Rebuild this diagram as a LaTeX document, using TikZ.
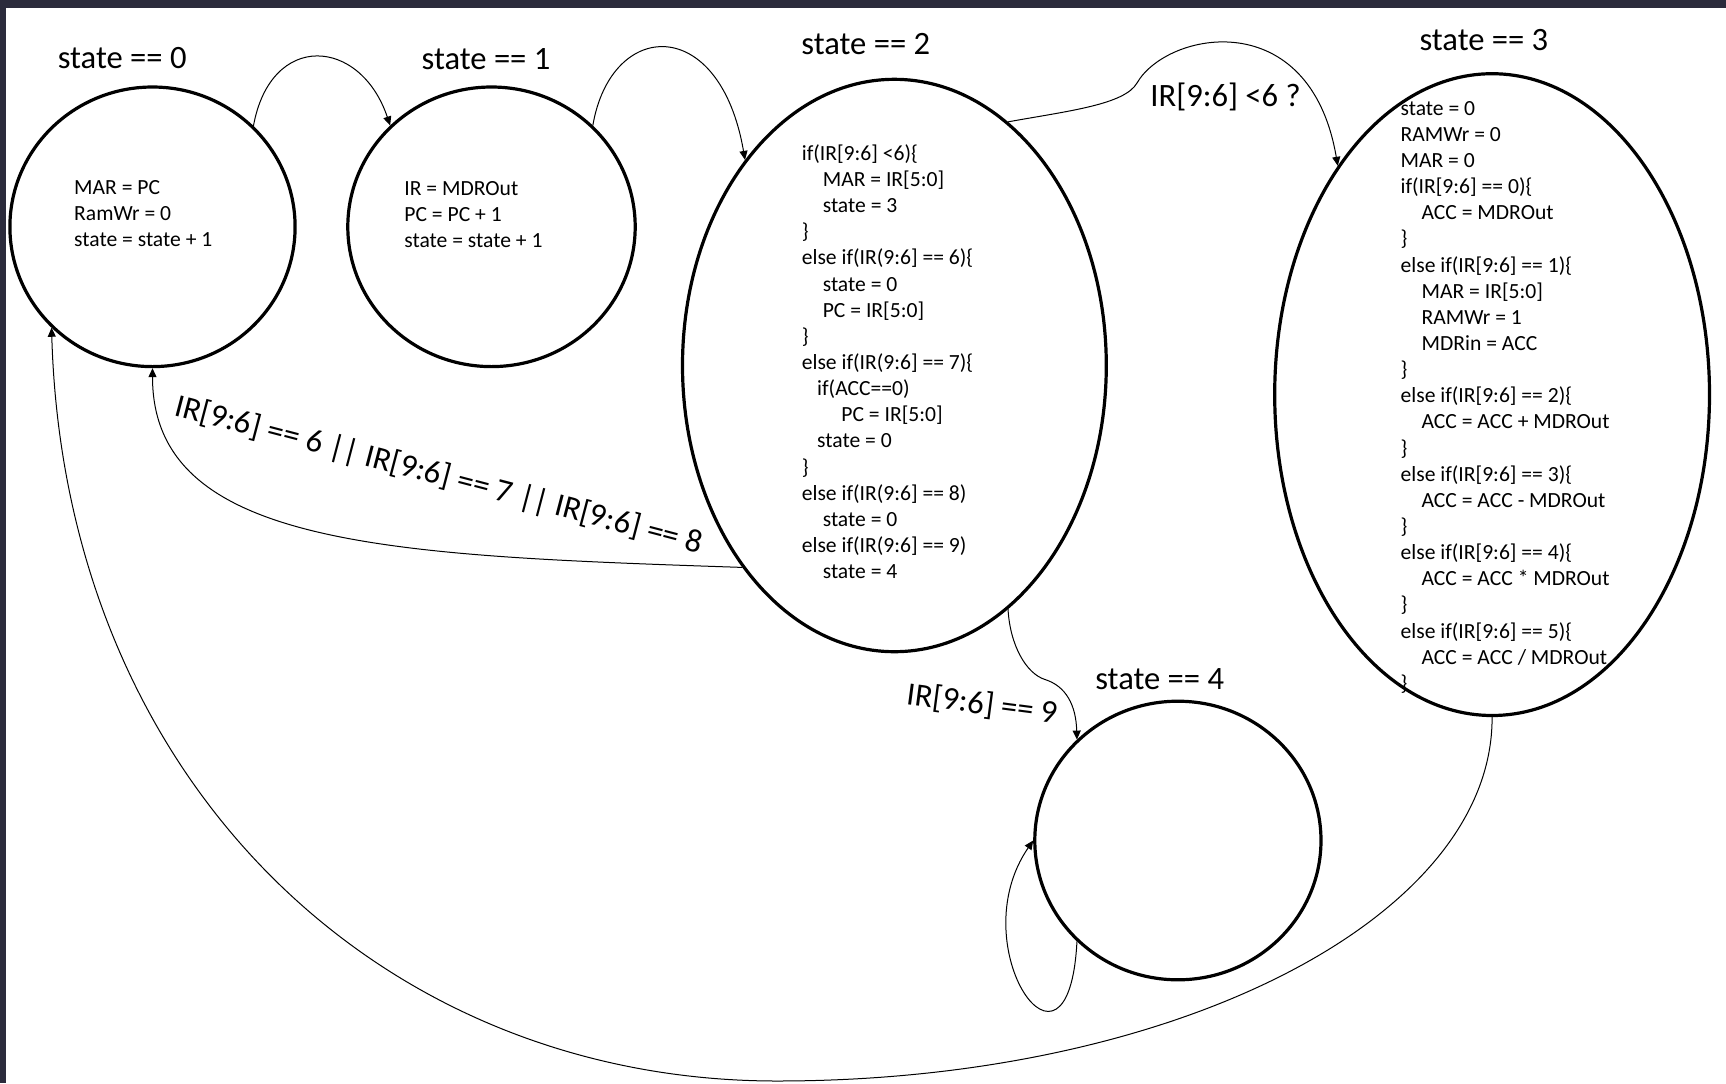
\documentclass[tikz,border=0pt]{standalone}
\usepackage{fontspec}
\setmainfont{Carlito}
\usetikzlibrary{shapes.geometric,arrows.meta}
\definecolor{framecol}{RGB}{43,43,60}
\begin{document}
\begin{tikzpicture}[x=0.5pt,y=-0.5pt,
  state/.style={ellipse,draw,line width=1.6pt,inner sep=0pt},
  title/.style={font=\fontsize{16.3}{19}\selectfont,inner sep=0pt},
  code/.style={font=\fontsize{10.8}{13.07}\selectfont,align=left,anchor=north west,inner sep=0pt},
  cond/.style={font=\fontsize{16.3}{19}\selectfont,inner sep=0pt},
  link/.style={line width=0.5pt,-{Triangle[length=4.5pt,width=4pt]}},
]
\useasboundingbox (0,0) rectangle (1726,1083);
\fill[white] (0,0) rectangle (1726,1083);
\fill[framecol] (0,0) rectangle (1726,7.5);
\fill[framecol] (0,0) rectangle (6,1083);

% states
\node[state,minimum width=142.6pt,minimum height=139.8pt] (s0) at (152.5,226.8) {};
\node[state,minimum width=143.7pt,minimum height=139.8pt] (s1) at (491.5,226.8) {};
\node[state,minimum width=211.9pt,minimum height=286.2pt] (s2) at (894.4,365.5) {};
\node[state,minimum width=217.4pt,minimum height=320.9pt] (s3) at (1492.1,394.6) {};
\node[state,minimum width=143.1pt,minimum height=139.3pt] (s4) at (1177.9,840.5) {};

% state titles
\node[title] (t0) at (122.2,58.3) {state == 0};
\node[title] (t1) at (486,59.4) {state == 1};
\node[title] (t2) at (865.8,44) {state == 2};
\node[title] (t3) at (1483.9,39.6) {state == 3};
\node[title] (t4) at (1159.7,679.2) {state == 4};

% state actions
\node[code] (c0) at (73.8,175.8) {\strut MAR = PC\\RamWr = 0\\state = state + 1};
\node[code] (c1) at (404,176.9) {\strut IR = MDROut\\PC = PC + 1\\state = state + 1};
\node[code] (c2) at (801.4,141.7) {\strut if(IR[9:6] <6)\{\\
\hspace*{10.5pt}MAR = IR[5:0]\\
\hspace*{10.5pt}state = 3\\
\}\\
else if(IR(9:6] == 6)\{\\
\hspace*{10.5pt}state = 0\\
\hspace*{10.5pt}PC = IR[5:0]\\
\}\\
else if(IR(9:6] == 7)\{\\
\hspace*{7.7pt}if(ACC==0)\\
\hspace*{19.8pt}PC = IR[5:0]\\
\hspace*{7.7pt}state = 0\\
\}\\
else if(IR(9:6] == 8)\\
\hspace*{10.5pt}state = 0\\
else if(IR(9:6] == 9)\\
\hspace*{10.5pt}state = 4};
\node[code] (c3) at (1400.2,96.5) {\strut state = 0\\
RAMWr = 0\\
MAR = 0\\
if(IR[9:6] == 0)\{\\
\hspace*{10.5pt}ACC = MDROut\\
\}\\
else if(IR[9:6] == 1)\{\\
\hspace*{10.5pt}MAR = IR[5:0]\\
\hspace*{10.5pt}RAMWr = 1\\
\hspace*{10.5pt}MDRin = ACC\\
\}\\
else if(IR[9:6] == 2)\{\\
\hspace*{10.5pt}ACC = ACC + MDROut\\
\}\\
else if(IR[9:6] == 3)\{\\
\hspace*{10.5pt}ACC = ACC - MDROut\\
\}\\
else if(IR[9:6] == 4)\{\\
\hspace*{10.5pt}ACC = ACC * MDROut\\
\}\\
else if(IR[9:6] == 5)\{\\
\hspace*{10.5pt}ACC = ACC / MDROut\\
\}};

% transition conditions
\node[cond] (l23) at (1225.5,97) {IR[9:6] <6 ?};
\node[cond,rotate=-14.7] (l20) at (439,475.5) {IR[9:6] == 6 || IR[9:6] == 7 || IR[9:6] == 8};
\node[cond,rotate=-7.5] (l24) at (982,704.5) {IR[9:6] == 9};

% waypoints
\coordinate (w23) at (1137,83);
\coordinate (w24) at (1045,679.5);
\coordinate (w30) at (777,1081);

% transitions
\draw[link] (s0.45) .. controls (270.8,30.8) and (360.5,37.3) .. (s1.135);
\draw[link] (s1.45) .. controls (611,18.9) and (719.9,13.5) .. (s2.126);
\draw[link] (s2.65) .. controls (1068,111) and (1124.5,104.7) .. (w23)
                    .. controls (1167,31) and (1310,3.4) .. (s3.124);
\draw[link] (s2.233) .. controls (390,555.5) and (152.5,547) .. (s0.270);
\draw[link] (s2.295) .. controls (1010,645) and (1026,673.5) .. (w24)
                     .. controls (1065.9,686.1) and (1076,705) .. (s4.135);
\draw[link] (s4.225) .. controls (1068.7,1103.3) and (959.9,947.1) .. (s4.180);
\draw[link] (s3.270) .. controls (1493,917) and (1177,1081) .. (w30)
                     .. controls (377,1081) and (64.5,778) .. (s0.225);
\end{tikzpicture}
\end{document}
